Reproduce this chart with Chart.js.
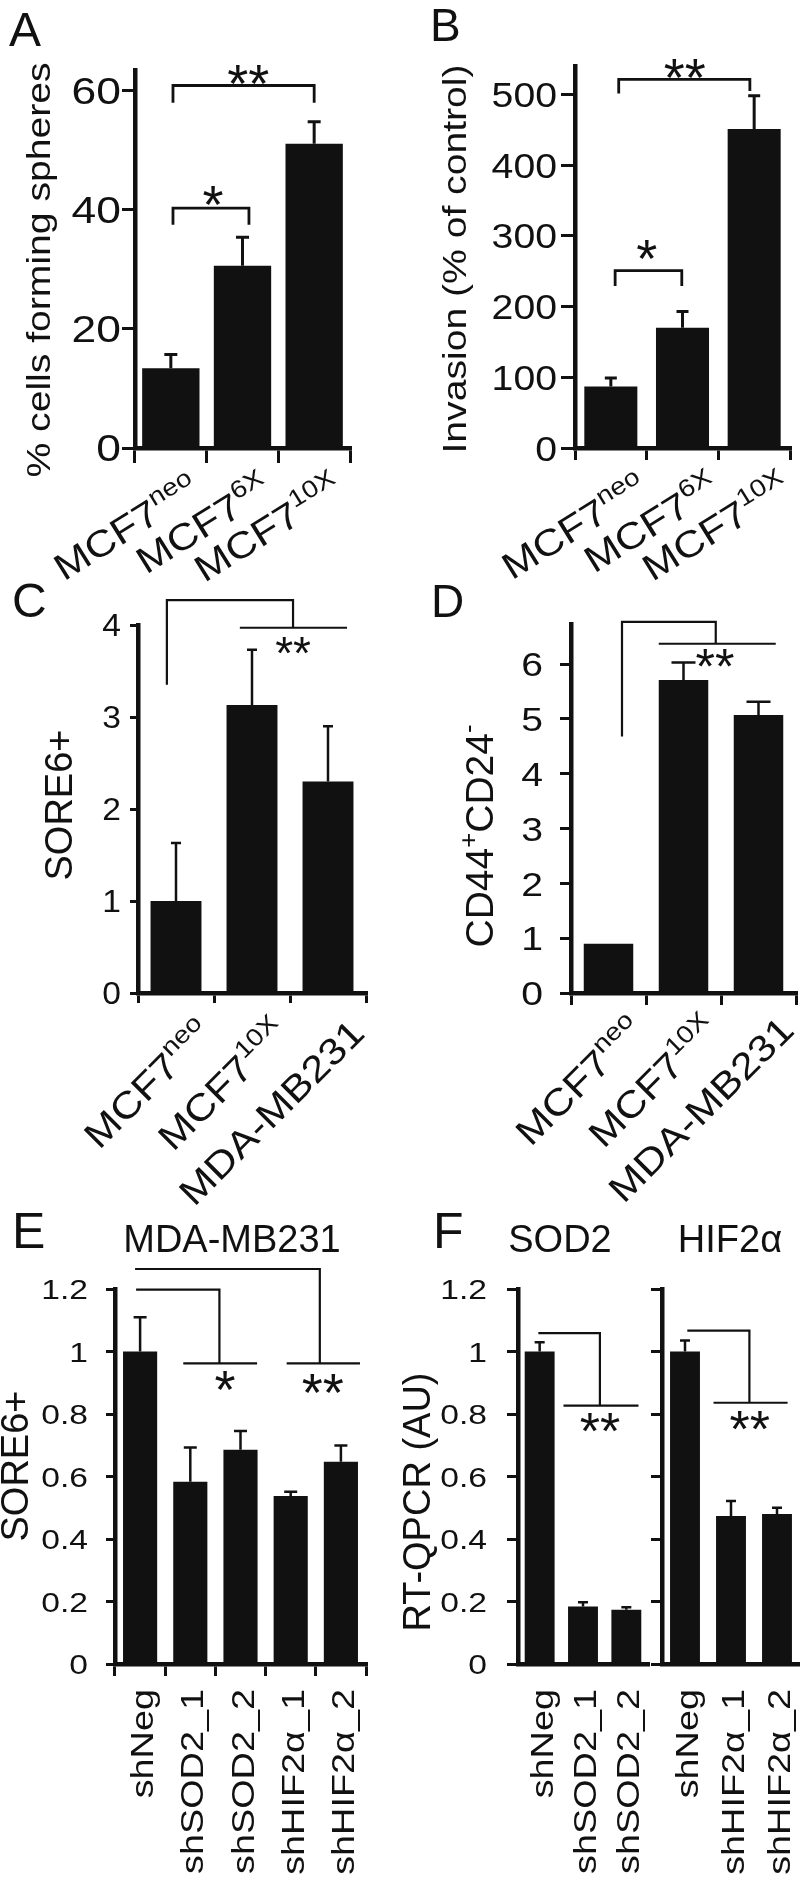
<!DOCTYPE html>
<html>
<head>
<meta charset="utf-8">
<script src="https://cdn.jsdelivr.net/npm/chart.js@4.4.1/dist/chart.umd.min.js"></script>
<style>
  html, body { margin: 0; padding: 0; background: #fff; }
  #wrap { position: relative; width: 800px; height: 1881px; overflow: hidden; }
  #wrap canvas { position: absolute; left: 0; top: 0; }
</style>
</head>
<body>
<div id="wrap">
  <canvas id="cA" width="800" height="1881"></canvas>
  <canvas id="cB" width="800" height="1881"></canvas>
  <canvas id="cC" width="800" height="1881"></canvas>
  <canvas id="cD" width="800" height="1881"></canvas>
  <canvas id="cE" width="800" height="1881"></canvas>
  <canvas id="cF1" width="800" height="1881"></canvas>
  <canvas id="cF2" width="800" height="1881"></canvas>
</div>
<script>
// A: sphere formation
const catsA = ['MCF7{neo}', 'MCF7{6X}', 'MCF7{10X}'];
const valsA = [13.4, 30.6, 51.1];
const errsA = [2.3, 4.8, 3.7];
const ticksA = [0, 20, 40, 60];

// B: invasion
const catsB = ['MCF7{neo}', 'MCF7{6X}', 'MCF7{10X}'];
const valsB = [87, 170, 451];
const errsB = [12, 23, 47];
const ticksB = [0, 100, 200, 300, 400, 500];

// C: SORE6+
const catsC = ['MCF7{neo}', 'MCF7{10X}', 'MDA-MB231'];
const valsC = [1.0, 3.13, 2.3];
const errsC = [0.63, 0.6, 0.6];
const ticksC = [0, 1, 2, 3, 4];

// D: CD44+CD24-
const catsD = ['MCF7{neo}', 'MCF7{10X}', 'MDA-MB231'];
const valsD = [0.9, 5.71, 5.07];
const errsD = [0, 0.32, 0.24];
const ticksD = [0, 1, 2, 3, 4, 5, 6];

// E: MDA-MB231 SORE6+
const catsE = ['shNeg', 'shSOD2_1', 'shSOD2_2', 'shHIF2α_1', 'shHIF2α_2'];
const valsE = [1.0, 0.583, 0.686, 0.538, 0.647];
const errsE = [0.11, 0.11, 0.06, 0.013, 0.052];
const ticksE = [0, 0.2, 0.4, 0.6, 0.8, 1, 1.2];

// F: RT-QPCR
const catsF1 = ['shNeg', 'shSOD2_1', 'shSOD2_2'];
const valsF1 = [1.0, 0.184, 0.174];
const errsF1 = [0.03, 0.014, 0.008];
const catsF2 = ['shNeg', 'shHIF2α_1', 'shHIF2α_2'];
const valsF2 = [1.0, 0.474, 0.48];
const errsF2 = [0.035, 0.048, 0.02];
const ticksF = [0, 0.2, 0.4, 0.6, 0.8, 1, 1.2];

// significance brackets, in [category index, value] units
const marksA = {
  lines: [[[0.03, 37.5], [0.03, 40.3], [1.09, 40.3], [1.09, 37.5]],
          [[0.03, 58.0], [0.03, 60.9], [2.0, 60.9], [2.0, 58.0]]],
  stars: [['*', 0.59, 42.5], ['**', 1.08, 62.7]]
};
const marksB = {
  lines: [[[0.06, 229], [0.06, 250.6], [0.99, 250.6], [0.99, 229]],
          [[0.11, 501], [0.11, 521.2], [1.94, 521.2], [1.94, 504.7]]],
  stars: [['*', 0.5, 280], ['**', 1.03, 537]]
};
const marksC = {
  lines: [[[-0.12, 3.35], [-0.12, 4.27], [1.54, 4.27], [1.54, 3.97]],
          [[0.84, 3.97], [2.25, 3.97]]],
  stars: [['**', 1.54, 3.78]]
};
const marksD = {
  lines: [[[0.18, 4.68], [0.18, 6.77], [1.43, 6.77], [1.43, 6.37]],
          [[0.67, 6.37], [2.23, 6.37]]],
  stars: [['**', 1.42, 6.11]]
};
const marksE = {
  lines: [[[-0.08, 1.198], [1.58, 1.198], [1.58, 0.962]],
          [[0.86, 0.962], [2.33, 0.962]],
          [[-0.1, 1.264], [3.58, 1.264], [3.58, 0.962]],
          [[2.92, 0.962], [4.38, 0.962]]],
  stars: [['*', 1.69, 0.908], ['**', 3.64, 0.898]]
};
const marksF1 = {
  lines: [[[-0.03, 1.059], [1.39, 1.059], [1.39, 0.827]],
          [[0.55, 0.827], [2.28, 0.827]]],
  stars: [['**', 1.39, 0.774]]
};
const marksF2 = {
  lines: [[[0.05, 1.067], [1.40, 1.067], [1.40, 0.836]],
          [[0.62, 0.836], [2.23, 0.836]]],
  stars: [['**', 1.41, 0.779]]
};

const INK = '#111';
const FONT = '"Liberation Sans", Arial, Helvetica, sans-serif';
const W = 800, H = 1881;

// text with {superscript} parts, optional stretch along the reading direction
function richText(ctx, str, x, y, o) {
  const size = o.size, sx = o.sx || 1, supSize = size * 0.66;
  const parts = [];
  str.replace(/\{([^}]*)\}|([^{]+)/g, (m, sup, main) => {
    parts.push(sup !== undefined ? { t: sup, sup: true } : { t: main, sup: false });
    return m;
  });
  ctx.save();
  ctx.translate(x, y);
  if (o.rot) ctx.rotate(o.rot * Math.PI / 180);
  ctx.scale(sx, 1);
  ctx.textBaseline = 'alphabetic';
  ctx.textAlign = 'left';
  ctx.fillStyle = INK;
  let w = 0;
  parts.forEach(p => {
    ctx.font = (p.sup ? supSize : size) + 'px ' + FONT;
    p.w = ctx.measureText(p.t).width;
    w += p.w;
  });
  let cx = o.align === 'right' ? -w : o.align === 'center' ? -w / 2 : 0;
  const base = o.base === 'middle' ? size * 0.358 : 0;
  parts.forEach(p => {
    ctx.font = (p.sup ? supSize : size) + 'px ' + FONT;
    ctx.fillText(p.t, cx, base - (p.sup ? size * 0.42 : 0));
    cx += p.w;
  });
  ctx.restore();
}

function starText(ctx, s, x, y, size) {
  ctx.save();
  ctx.font = size + 'px ' + FONT;
  ctx.textAlign = 'center';
  ctx.textBaseline = 'alphabetic';
  ctx.fillStyle = INK;
  const m = ctx.measureText(s);
  ctx.fillText(s, x, y + (m.actualBoundingBoxAscent - m.actualBoundingBoxDescent) / 2);
  ctx.restore();
}

function makePanel(P) {
  const [l, r, t, b] = P.area;
  const deco = {
    id: 'deco_' + P.id,
    afterDatasetsDraw(chart) {
      const { ctx, scales: { x, y } } = chart;
      const meta = chart.getDatasetMeta(0);
      ctx.save();
      ctx.strokeStyle = INK;
      ctx.lineWidth = P.errW;
      meta.data.forEach((bar, i) => {
        const e = P.errs[i];
        if (!e) return;
        const yTop = y.getPixelForValue(P.vals[i] + e);
        ctx.beginPath();
        ctx.moveTo(bar.x, bar.y);
        ctx.lineTo(bar.x, yTop);
        ctx.moveTo(bar.x - P.cap / 2, yTop);
        ctx.lineTo(bar.x + P.cap / 2, yTop);
        ctx.stroke();
      });
      ctx.lineWidth = P.brW;
      P.marks.lines.forEach(pts => {
        ctx.beginPath();
        pts.forEach(([xi, v], k) => {
          const px = x.getPixelForValue(xi), py = y.getPixelForValue(v);
          if (k) ctx.lineTo(px, py); else ctx.moveTo(px, py);
        });
        ctx.stroke();
      });
      P.marks.stars.forEach(([s, xi, v]) =>
        starText(ctx, s, x.getPixelForValue(xi), y.getPixelForValue(v), P.starSize));
      ctx.restore();
    },
    afterDraw(chart) {
      const { ctx, scales: { x, y } } = chart;
      if (P.tick) {
        P.yTicks.forEach(v => richText(ctx, String(v), P.tick.right, y.getPixelForValue(v),
          { size: P.tick.size, sx: P.tick.sx, align: 'right', base: 'middle' }));
      }
      const L = P.lab;
      P.cats.forEach((c, i) => richText(ctx, c, x.getPixelForValue(i) + L.dx, b + L.dy,
        { size: L.size, sx: L.sx, rot: L.rot, align: 'right', base: 'middle' }));
      P.texts.forEach(([s, px, py, o]) => richText(ctx, s, px, py, o));
    }
  };

  const axisLine = { display: true, color: INK, width: 4.5 };
  new Chart(document.getElementById(P.id), {
    type: 'bar',
    data: {
      labels: P.cats,
      datasets: [{
        data: P.vals,
        backgroundColor: INK,
        borderWidth: 0,
        barPercentage: P.barPct,
        categoryPercentage: 1
      }]
    },
    options: {
      responsive: false,
      animation: false,
      devicePixelRatio: 1,
      events: [],
      layout: { padding: { left: l - P.tyLen, right: W - r, top: t, bottom: H - b - P.txLen } },
      plugins: { legend: { display: false }, tooltip: { enabled: false } },
      scales: {
        x: {
          type: 'category',
          offset: true,
          grid: { display: P.txLen > 0, offset: true, drawOnChartArea: false,
                  drawTicks: P.txLen > 0, tickLength: P.txLen, color: INK, lineWidth: 3 },
          border: axisLine,
          ticks: { display: false }
        },
        y: {
          min: 0,
          max: P.max,
          afterBuildTicks: s => { s.ticks = P.yTicks.map(v => ({ value: v })); },
          grid: { drawOnChartArea: false, drawTicks: true, tickLength: P.tyLen, color: INK, lineWidth: 3 },
          border: axisLine,
          ticks: { display: false }
        }
      }
    },
    plugins: [deco]
  });
}

makePanel({
  id: 'cA', cats: catsA, vals: valsA, errs: errsA, yTicks: ticksA, marks: marksA,
  max: 63.5, area: [135, 350, 70, 448], tyLen: 13, txLen: 15, barPct: 0.8,
  cap: 13, errW: 3, brW: 2.8, starSize: 54,
  tick: { right: 121, size: 37, sx: 1.2 },
  lab: { rot: -32, size: 37, sx: 1.15, dx: 24, dy: 36 },
  texts: [['A', 9, 46, { size: 48 }],
          ['% cells forming spheres', 50, 270, { size: 34, sx: 1.15, rot: -90, align: 'center' }]]
});

makePanel({
  id: 'cB', cats: catsB, vals: valsB, errs: errsB, yTicks: ticksB, marks: marksB,
  max: 540, area: [575, 790, 66, 448], tyLen: 14, txLen: 12, barPct: 0.74,
  cap: 12, errW: 3, brW: 2.8, starSize: 54,
  tick: { right: 557, size: 35, sx: 1.12 },
  lab: { rot: -32, size: 37, sx: 1.15, dx: 32, dy: 35 },
  texts: [['B', 430, 41, { size: 46 }],
          ['Invasion (% of control)', 466, 259, { size: 34, sx: 1.15, rot: -90, align: 'center' }]]
});

makePanel({
  id: 'cC', cats: catsC, vals: valsC, errs: errsC, yTicks: ticksC, marks: marksC,
  max: 4, area: [138, 366, 625, 993], tyLen: 8, txLen: 10, barPct: 0.67,
  cap: 10, errW: 2.5, brW: 2.2, starSize: 46,
  tick: { right: 121, size: 32, sx: 1.05 },
  lab: { rot: -45, size: 37, sx: 1.15, dx: 29, dy: 33 },
  texts: [['C', 12, 617, { size: 48 }],
          ['SORE6+', 72, 805, { size: 38, rot: -90, align: 'center' }]]
});

makePanel({
  id: 'cD', cats: catsD, vals: valsD, errs: errsD, yTicks: ticksD, marks: marksD,
  max: 6.73, area: [571, 796, 624, 993], tyLen: 11, txLen: 12, barPct: 0.66,
  cap: 24, errW: 2.5, brW: 2.2, starSize: 50,
  tick: { right: 543, size: 34, sx: 1.15 },
  lab: { rot: -45, size: 37, sx: 1.15, dx: 28, dy: 30 },
  texts: [['D', 431, 617, { size: 46 }],
          ['CD44{+}CD24{-}', 493, 836, { size: 39, rot: -90, align: 'center' }]]
});

makePanel({
  id: 'cE', cats: catsE, vals: valsE, errs: errsE, yTicks: ticksE, marks: marksE,
  max: 1.2, area: [115, 366, 1289, 1664], tyLen: 9, txLen: 12, barPct: 0.68,
  cap: 13, errW: 2.5, brW: 2.2, starSize: 54,
  tick: { right: 88, size: 28, sx: 1.2 },
  lab: { rot: -90, size: 31, sx: 1.22, dx: 2, dy: 25 },
  texts: [['E', 12, 1248, { size: 50 }],
          ['MDA-MB231', 232, 1252, { size: 38, align: 'center' }],
          ['SORE6+', 28, 1466, { size: 38, rot: -90, align: 'center' }]]
});

makePanel({
  id: 'cF1', cats: catsF1, vals: valsF1, errs: errsF1, yTicks: ticksF, marks: marksF1,
  max: 1.2, area: [518, 648, 1289, 1664], tyLen: 11, txLen: 0, barPct: 0.69,
  cap: 10, errW: 2.5, brW: 2.2, starSize: 52,
  tick: { right: 487, size: 28, sx: 1.2 },
  lab: { rot: -90, size: 31, sx: 1.22, dx: 2, dy: 25 },
  texts: [['F', 433, 1248, { size: 50 }],
          ['SOD2', 560, 1252, { size: 38, align: 'center' }],
          ['RT-QPCR (AU)', 430, 1502, { size: 38, rot: -90, align: 'center' }]]
});

makePanel({
  id: 'cF2', cats: catsF2, vals: valsF2, errs: errsF2, yTicks: ticksF, marks: marksF2,
  max: 1.2, area: [662, 800, 1289, 1664], tyLen: 11, txLen: 0, barPct: 0.65,
  cap: 10, errW: 2.5, brW: 2.2, starSize: 52,
  tick: null,
  lab: { rot: -90, size: 31, sx: 1.22, dx: 2, dy: 25 },
  texts: [['HIF2α', 730, 1252, { size: 38, align: 'center' }]]
});
</script>
</body>
</html>
